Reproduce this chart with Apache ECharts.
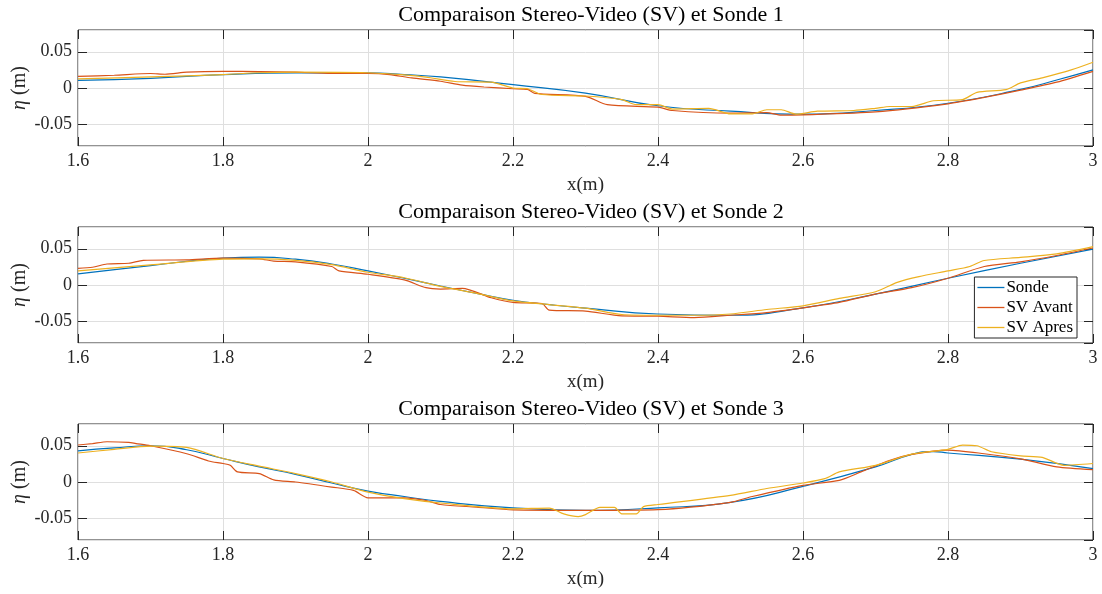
<!DOCTYPE html>
<html>
<head>
<meta charset="utf-8">
<script src="https://cdn.jsdelivr.net/npm/echarts@6/dist/echarts.min.js"></script>
<style>
  html, body { margin: 0; padding: 0; background: #fff; }
  #chart { width: 1102px; height: 594px; }
</style>
</head>
<body>
<div id="chart"></div>
<script>
// valeurs : [x (m), eta (m)]
var titres = [
    'Comparaison Stereo-Video (SV) et Sonde 1',
    'Comparaison Stereo-Video (SV) et Sonde 2',
    'Comparaison Stereo-Video (SV) et Sonde 3'
];
var noms = ['Sonde', 'SV Avant', 'SV Apres'];

var sonde1 = [[1.6,0.0106],[1.7,0.0134],[1.8,0.0185],[1.9,0.021],[2.0,0.021],[2.05,0.0185],[2.1,0.0153],
    [2.2,0.0046],[2.3,-0.007],[2.4,-0.0245],[2.5,-0.032],[2.6,-0.036],[2.7,-0.031],[2.8,-0.021],
    [2.9,-0.002],[2.95,0.011],[3.0,0.025]];
var avant1 = [[1.6,0.016],[1.65,0.0176],[1.7,0.02],[1.72,0.019],[1.75,0.0218],[1.8,0.023],[1.85,0.0227],
    [1.9,0.0218],[1.95,0.02],[2.0,0.02],[2.03,0.0185],[2.06,0.0139],[2.1,0.0093],[2.13,0.004],
    [2.16,0.0014],[2.2,-0.001],[2.22,-0.002],[2.23,-0.0074],[2.3,-0.0115],[2.33,-0.023],[2.4,-0.0264],
    [2.42,-0.031],[2.5,-0.0347],[2.55,-0.034],[2.57,-0.0375],[2.6,-0.037],[2.7,-0.033],[2.8,-0.0218],
    [2.85,-0.013],[2.9,-0.003],[2.95,0.008],[3.0,0.023]];
var apres1 = [[1.6,0.0125],[1.7,0.0153],[1.8,0.0185],[1.85,0.021],[1.9,0.0218],[2.0,0.021],[2.05,0.018],
    [2.08,0.015],[2.12,0.009],[2.17,0.008],[2.2,0],[2.22,-0.001],[2.24,-0.009],[2.3,-0.011],
    [2.35,-0.016],[2.37,-0.023],[2.4,-0.023],[2.42,-0.029],[2.47,-0.028],[2.5,-0.0357],[2.53,-0.0357],
    [2.55,-0.03],[2.57,-0.03],[2.59,-0.036],[2.62,-0.032],[2.67,-0.031],[2.7,-0.028],[2.72,-0.0255],
    [2.75,-0.0255],[2.78,-0.0176],[2.82,-0.016],[2.84,-0.006],[2.88,-0.0023],[2.9,0.007],[2.93,0.014],
    [2.97,0.025],[3.0,0.0356]];

var sonde2 = [[1.6,0.0153],[1.7,0.0268],[1.8,0.037],[1.85,0.0384],[1.9,0.0356],[1.95,0.029],[2.0,0.0194],
    [2.05,0.0093],[2.1,-0.0014],[2.15,-0.0116],[2.2,-0.021],[2.25,-0.027],[2.3,-0.032],[2.4,-0.04],
    [2.5,-0.0417],[2.6,-0.0315],[2.7,-0.0125],[2.8,0.0093],[2.9,0.03],[3.0,0.0495]];
var avant2 = [[1.6,0.023],[1.62,0.0245],[1.64,0.029],[1.67,0.03],[1.69,0.034],[1.75,0.0347],[1.8,0.037],
    [1.85,0.036],[1.87,0.033],[1.9,0.032],[1.95,0.0255],[1.96,0.0194],[2.0,0.0148],[2.05,0.007],
    [2.08,-0.0037],[2.1,-0.0056],[2.13,-0.0046],[2.17,-0.0176],[2.2,-0.024],[2.24,-0.0255],
    [2.25,-0.0347],[2.3,-0.036],[2.35,-0.0426],[2.4,-0.043],[2.45,-0.045],[2.5,-0.0417],[2.55,-0.038],
    [2.6,-0.0315],[2.65,-0.024],[2.7,-0.0125],[2.75,-0.0037],[2.8,0.0093],[2.85,0.0255],[2.9,0.032],
    [2.95,0.0407],[3.0,0.051]];
var apres2 = [[1.6,0.0194],[1.7,0.0278],[1.8,0.0356],[1.85,0.036],[1.9,0.034],[1.95,0.028],[2.0,0.0176],
    [2.05,0.01],[2.1,-0.002],[2.15,-0.0116],[2.2,-0.022],[2.25,-0.027],[2.3,-0.032],[2.35,-0.0407],
    [2.4,-0.0417],[2.45,-0.0417],[2.5,-0.04],[2.55,-0.0338],[2.6,-0.0287],[2.65,-0.0185],[2.7,-0.0093],
    [2.73,0.0037],[2.76,0.0116],[2.8,0.0194],[2.83,0.0255],[2.85,0.0338],[2.9,0.038],[2.95,0.043],
    [3.0,0.053]];

var sonde3 = [[1.6,0.043],[1.65,0.047],[1.7,0.05],[1.75,0.0445],[1.8,0.0324],[1.85,0.0208],[1.9,0.0106],
    [1.95,-0.0014],[2.0,-0.0125],[2.05,-0.02],[2.1,-0.0268],[2.2,-0.0356],[2.3,-0.039],[2.4,-0.0356],
    [2.5,-0.028],[2.6,-0.006],[2.7,0.0208],[2.75,0.038],[2.78,0.042],[2.8,0.04],[2.9,0.0315],[3.0,0.0185]];
var avant3 = [[1.6,0.051],[1.62,0.053],[1.64,0.0555],[1.67,0.0546],[1.68,0.053],[1.7,0.05],[1.75,0.039],
    [1.78,0.029],[1.8,0.0255],[1.81,0.023],[1.82,0.0139],[1.85,0.0116],[1.87,0.003],[1.9,0.0],
    [1.95,-0.007],[1.98,-0.0116],[2.0,-0.0218],[2.05,-0.0218],[2.08,-0.0255],[2.1,-0.031],[2.15,-0.0347],
    [2.2,-0.0384],[2.3,-0.039],[2.4,-0.038],[2.5,-0.028],[2.53,-0.02],[2.6,-0.0046],[2.65,0.0023],
    [2.68,0.0139],[2.72,0.03],[2.75,0.038],[2.8,0.044],[2.85,0.039],[2.9,0.032],[2.95,0.0208],[3.0,0.017]];
var apres3 = [[1.6,0.04],[1.65,0.045],[1.7,0.0495],[1.75,0.0477],[1.8,0.0324],[1.85,0.0218],[1.9,0.0116],
    [1.95,0.0],[2.0,-0.014],[2.05,-0.023],[2.1,-0.029],[2.2,-0.037],[2.25,-0.036],[2.27,-0.044],
    [2.29,-0.0477],[2.3,-0.045],[2.32,-0.035],[2.34,-0.035],[2.35,-0.044],[2.37,-0.044],[2.38,-0.034],
    [2.4,-0.031],[2.5,-0.0185],[2.55,-0.009],[2.6,-0.0014],[2.63,0.0046],[2.65,0.0139],[2.7,0.023],
    [2.75,0.0384],[2.8,0.045],[2.82,0.051],[2.84,0.05],[2.86,0.0417],[2.9,0.0361],[2.93,0.034],
    [2.96,0.023],[3.0,0.0255]];

var courbes = [[sonde1, avant1, apres1], [sonde2, avant2, apres2], [sonde3, avant3, apres3]];
var couleurs = ['#0072BD', '#D95319', '#EDB120'];

var police = 'Liberation Serif';
var noir = '#262626';
var hauts = [30, 227, 424];

var grid = [], xAxis = [], yAxis = [], title = [], series = [];
for (var i = 0; i < 3; i++) {
    grid.push({
        left: 78, right: 9, top: hauts[i], height: 116, outerBoundsMode: 'none',
        show: true, borderColor: noir, borderWidth: 1, backgroundColor: '#fff'
    });
    title.push({
        text: titres[i], left: 591, top: hauts[i] - 26, textAlign: 'center', padding: 0,
        textStyle: { fontFamily: police, fontSize: 22, fontWeight: 'normal', color: '#000' }
    });
    // axe x bas
    xAxis.push({
        type: 'value', gridIndex: i, min: 1.6, max: 3, interval: 0.2,
        name: 'x(m)', nameLocation: 'middle', nameGap: 30, nameMoveOverlap: false,
        nameTextStyle: { fontFamily: police, fontSize: 19, color: noir },
        axisLine: { show: false, onZero: false },
        axisTick: { inside: true, length: 9, lineStyle: { color: noir } },
        axisLabel: {
            margin: 6, fontFamily: police, fontSize: 18, color: noir,
            formatter: function (v) { return String(+v.toFixed(1)); }
        },
        splitLine: { lineStyle: { color: '#dfdfdf' } }
    });
    // axe x haut (ticks seulement)
    xAxis.push({
        type: 'value', gridIndex: i, position: 'top', min: 1.6, max: 3, interval: 0.2,
        axisLine: { show: false, onZero: false }, axisLabel: { show: false }, splitLine: { show: false },
        axisTick: { inside: true, length: 9, lineStyle: { color: noir } }
    });
    yAxis.push({
        type: 'value', gridIndex: i, min: -0.08, max: 0.08, splitNumber: 3,
        minInterval: 0.05, maxInterval: 0.05,
        name: '{i|η} (m)', nameLocation: 'middle', nameGap: 48, nameMoveOverlap: false,
        nameTextStyle: {
            fontFamily: police, fontSize: 20, color: noir,
            rich: { i: { fontFamily: police, fontSize: 20, fontStyle: 'italic', color: noir } }
        },
        axisLine: { show: false, onZero: false },
        axisTick: { inside: true, length: 9, lineStyle: { color: noir } },
        axisLabel: {
            margin: 6, fontFamily: police, fontSize: 18, color: noir,
            showMinLabel: false, showMaxLabel: false,
            formatter: function (v) { return Math.abs(v) > 0.06 ? '' : String(Math.round(v * 100) / 100); }
        },
        splitLine: { lineStyle: { color: '#dfdfdf' } }
    });
    yAxis.push({
        type: 'value', gridIndex: i, position: 'right', min: -0.08, max: 0.08, splitNumber: 3,
        minInterval: 0.05, maxInterval: 0.05,
        axisLine: { show: false, onZero: false }, axisLabel: { show: false }, splitLine: { show: false },
        axisTick: { inside: true, length: 9, lineStyle: { color: noir } }
    });
    for (var k = 0; k < 3; k++) {
        series.push({
            type: 'line', name: noms[k], xAxisIndex: 2 * i, yAxisIndex: 2 * i,
            data: courbes[i][k], symbol: 'none', smooth: k === 0 ? 0.5 : 0.25,
            lineStyle: { color: couleurs[k], width: 1.2 }, itemStyle: { color: couleurs[k] },
            z: 2 + k
        });
    }
}

var chart = echarts.init(document.getElementById('chart'));
chart.setOption({
    animation: false,
    title: title,
    grid: grid,
    xAxis: xAxis,
    yAxis: yAxis,
    legend: {
        data: noms.map(function (n) { return { name: n, icon: 'rect' }; }),
        orient: 'vertical', right: 25, top: 277,
        itemWidth: 27, itemHeight: 1.3, itemGap: 3,
        padding: [2, 4, 2, 3],
        backgroundColor: '#fff', borderColor: noir, borderWidth: 1,
        textStyle: { fontFamily: police, fontSize: 17, color: '#000', padding: [0, 0, 0, -3] }
    },
    series: series
});
</script>
</body>
</html>
